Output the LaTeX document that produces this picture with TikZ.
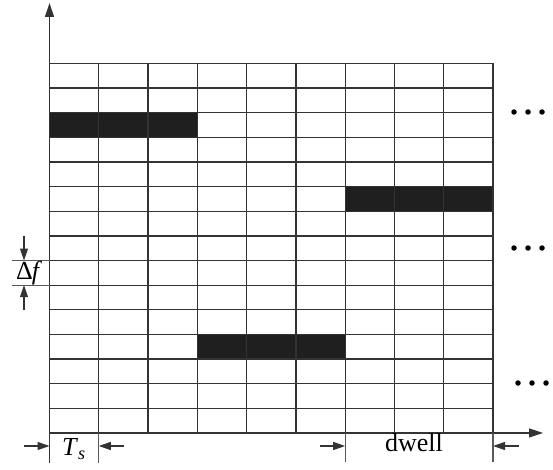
\documentclass[tikz,border=0pt]{standalone}
\usepackage{fontspec}
\setmainfont{Liberation Serif}
\usetikzlibrary{arrows.meta}
\begin{document}
\begin{tikzpicture}[x=1pt,y=-1pt,
  gridline/.style={line width=1.3pt,draw=black!80},
  axisline/.style={line width=1.3pt,draw=black!80},
  tipped/.style={line width=1.2pt,draw=black!80,-{Triangle[length=12pt,width=8pt]}},
  extline/.style={line width=1.2pt,draw=black!65},
  blk/.style={fill=black!88,draw=none},
  lbl/.style={font=\fontsize{26}{30}\selectfont,inner sep=0pt},
  dot/.style={circle,fill=black,inner sep=0pt,minimum size=5.5pt}]
\useasboundingbox (0,0) rectangle (553,470);
\def\xl{49.5}\def\cw{49.28}\def\yt{63.5}\def\rh{24.63}
% black blocks
\fill[blk] (\xl,\yt+2*\rh) rectangle (\xl+3*\cw,\yt+3*\rh);
\fill[blk] (\xl+6*\cw,\yt+5*\rh) rectangle (\xl+9*\cw,\yt+6*\rh);
\fill[blk] (\xl+3*\cw,\yt+11*\rh) rectangle (\xl+6*\cw,\yt+12*\rh);
% grid
\foreach \i in {0,...,15} \draw[gridline] (\xl,\yt+\i*\rh) -- (\xl+9*\cw,\yt+\i*\rh);
\foreach \j in {1,...,9} \draw[gridline] (\xl+\j*\cw,\yt) -- (\xl+\j*\cw,\yt+15*\rh);
% axes
\coordinate (O) at (\xl,\yt+15*\rh);
\coordinate (ytop) at (\xl,3);
\coordinate (xend) at (543,\yt+15*\rh);
\draw[axisline,-{Triangle[length=14pt,width=9pt]}] (\xl,463) -- (ytop);
\draw[axisline,-{Triangle[length=14pt,width=9pt]}] (O) -- (xend);
% Ts dimension
\coordinate (c1) at (\xl+\cw,\yt+15*\rh);
\coordinate (c1b) at (\xl+\cw,463);
\draw[extline] (c1) -- (c1b);
\coordinate (tsL) at (24,446);
\coordinate (tsLe) at (\xl,446);
\coordinate (tsR) at (124,446);
\coordinate (tsRe) at (\xl+\cw,446);
\draw[tipped] (tsL) -- (tsLe);
\draw[tipped] (tsR) -- (tsRe);
\node[lbl] (ts) at (74,449) {\textit{T}\textsubscript{\textit{s}}};
% dwell dimension
\coordinate (d1) at (\xl+6*\cw,\yt+15*\rh);
\coordinate (d1b) at (\xl+6*\cw,462);
\coordinate (d2) at (\xl+9*\cw,\yt+15*\rh);
\coordinate (d2b) at (\xl+9*\cw,462);
\draw[extline] (d1) -- (d1b);
\draw[extline] (d2) -- (d2b);
\coordinate (dwL) at (320,446);
\coordinate (dwLe) at (\xl+6*\cw,446);
\coordinate (dwR) at (519,446);
\coordinate (dwRe) at (\xl+9*\cw,446);
\draw[tipped] (dwL) -- (dwLe);
\draw[tipped] (dwR) -- (dwRe);
\node[lbl] (dw) at (414,443) {dwell};
% Delta f dimension
\coordinate (e1) at (12,\yt+8*\rh);
\coordinate (e1r) at (\xl,\yt+8*\rh);
\coordinate (e2) at (12,\yt+9*\rh);
\coordinate (e2r) at (\xl,\yt+9*\rh);
\draw[extline] (e1) -- (e1r);
\draw[extline] (e2) -- (e2r);
\coordinate (dfT) at (24,236);
\coordinate (dfTe) at (24,\yt+8*\rh);
\coordinate (dfB) at (24,310);
\coordinate (dfBe) at (24,\yt+9*\rh);
\draw[tipped] (dfT) -- (dfTe);
\draw[tipped] (dfB) -- (dfBe);
\node[lbl] (df) at (29,273) {Δ\kern-1pt\textit{f}};
% dots
\foreach \yy/\xx in {112/514,248/514,383/518}
  \foreach \k in {0,1,2} \node[dot] at (\xx+\k*14,\yy) {};
\end{tikzpicture}
\end{document}
